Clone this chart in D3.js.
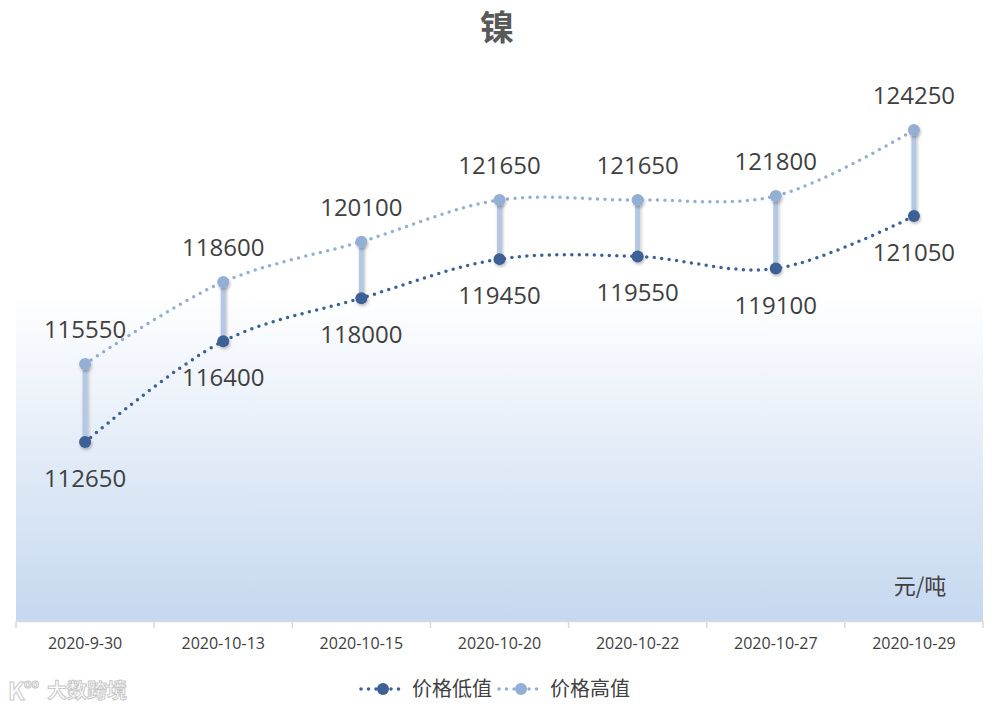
<!DOCTYPE html>
<html><head><meta charset="utf-8">
<script src="https://cdn.jsdelivr.net/npm/d3@7/dist/d3.min.js"></script>
<style>body{margin:0;background:#fff;font-family:"Noto Sans CJK SC","Open Sans",sans-serif;}</style>
</head><body><svg id="c" width="994" height="712"></svg>
<script>
const categories = ["2020-9-30","2020-10-13","2020-10-15","2020-10-20","2020-10-22","2020-10-27","2020-10-29"];
const lowValues = [112650,116400,118000,119450,119550,119100,121050];
const highValues = [115550,118600,120100,121650,121650,121800,124250];
const seriesNames = ["价格低值","价格高值"];
const title = "镍";
const unitLabel = "元/吨";

const svg = d3.select("#c");
const W = 994, H = 712;
const plot = {left:16, right:983, top:56, bottom:621};

const defs = svg.append("defs");
const grad = defs.append("linearGradient").attr("id","bg").attr("x1",0).attr("y1",0).attr("x2",0).attr("y2",1);
grad.append("stop").attr("offset","0%").attr("stop-color","#ffffff");
grad.append("stop").attr("offset","42%").attr("stop-color","#ffffff");
grad.append("stop").attr("offset","100%").attr("stop-color","#c5d8f0");
const sh = defs.append("filter").attr("id","sh").attr("filterUnits","userSpaceOnUse")
  .attr("x",0).attr("y",0).attr("width",W).attr("height",H);
sh.append("feDropShadow").attr("dx",1).attr("dy",2).attr("stdDeviation",1.5).attr("flood-color","#000").attr("flood-opacity",0.25);

svg.append("rect").attr("x",plot.left).attr("y",plot.top).attr("width",plot.right-plot.left).attr("height",plot.bottom-plot.top).attr("fill","url(#bg)");

const x = d3.scaleBand().domain(categories).range([plot.left, plot.right]);
const y = d3.scaleLinear().domain([106000,127000]).range([plot.bottom, plot.top]);
const cx = d => x(d) + x.bandwidth()/2;

// title
svg.append("text").attr("x",W/2).attr("y",40).attr("text-anchor","middle")
  .attr("font-size",34).attr("font-weight","bold").attr("fill","#595959").text(title);

// axis
const ax = svg.append("g").attr("transform",`translate(0,${plot.bottom})`)
  .call(d3.axisBottom(x).tickSize(0).tickPadding(17));
ax.select(".domain").attr("stroke","#d9d9d9").attr("stroke-width",1.5);
ax.selectAll("text").attr("font-size",16).attr("fill","#404040").attr("font-family","Open Sans, Noto Sans CJK SC, sans-serif");
const bounds = categories.map(c => x(c)).concat([plot.right]);
svg.append("g").selectAll("line").data(bounds).join("line")
  .attr("x1",d=>d).attr("x2",d=>d).attr("y1",plot.bottom).attr("y2",plot.bottom+7)
  .attr("stroke","#d9d9d9").attr("stroke-width",1.5);

// unit label
svg.append("text").attr("x",920).attr("y",594).attr("text-anchor","middle")
  .attr("font-size",22).attr("fill","#404040").text(unitLabel);

// high-low lines
svg.append("g").selectAll("rect").data(categories).join("rect")
  .attr("x",d=>cx(d)-2.5).attr("width",5)
  .attr("y",(d,i)=>y(highValues[i])).attr("height",(d,i)=>y(lowValues[i])-y(highValues[i]))
  .attr("fill","#b4c8e2").attr("filter","url(#sh)");

const line = d3.line().x((d,i)=>cx(categories[i])).y(d=>y(d)).curve(d3.curveCatmullRom.alpha(0.5));
const colors = ["#3d6096","#94afd4"];
[lowValues, highValues].forEach((vals, k) => {
  svg.append("path").attr("d", line(vals)).attr("fill","none")
    .attr("stroke", colors[k]).attr("stroke-width",3.5).attr("stroke-linecap","round")
    .attr("stroke-dasharray","0 7.5");
  svg.append("g").selectAll("circle").data(vals).join("circle")
    .attr("cx",(d,i)=>cx(categories[i])).attr("cy",d=>y(d)).attr("r",6)
    .attr("fill",colors[k]).attr("filter","url(#sh)");
});

// labels
svg.append("g").selectAll("text").data(highValues).join("text")
  .attr("x",(d,i)=>cx(categories[i])).attr("y",d=>y(d)-26).attr("text-anchor","middle")
  .attr("font-size",24).attr("fill","#404040").attr("font-family","Open Sans, sans-serif").text(d=>d);
svg.append("g").selectAll("text").data(lowValues).join("text")
  .attr("x",(d,i)=>cx(categories[i])).attr("y",d=>y(d)+45).attr("text-anchor","middle")
  .attr("font-size",24).attr("fill","#404040").attr("font-family","Open Sans, sans-serif").text(d=>d);

// legend
const lg = svg.append("g");
const legendX = [358, 496];
seriesNames.forEach((n,k) => {
  const g = lg.append("g").attr("transform",`translate(${legendX[k]},689)`);
  g.append("line").attr("x1",3).attr("x2",45).attr("y1",0).attr("y2",0)
    .attr("stroke",colors[k]).attr("stroke-width",3.5).attr("stroke-linecap","round").attr("stroke-dasharray","0 7.5");
  g.append("circle").attr("cx",25).attr("cy",0).attr("r",6).attr("fill",colors[k]);
  g.append("text").attr("x",54).attr("y",7).attr("font-size",20).attr("fill","#404040").text(n);
});

// watermark
const wm = svg.append("g").attr("fill","#ffffff").attr("stroke","#c8c8c8").attr("stroke-width",1).attr("font-weight","bold");
wm.append("text").attr("x",8).attr("y",700).attr("font-size",24).text("K");
wm.append("text").attr("x",24).attr("y",688).attr("font-size",12).text("oo");
wm.append("text").attr("x",47).attr("y",698).attr("font-size",20).text("大数跨境");
</script></body></html>
